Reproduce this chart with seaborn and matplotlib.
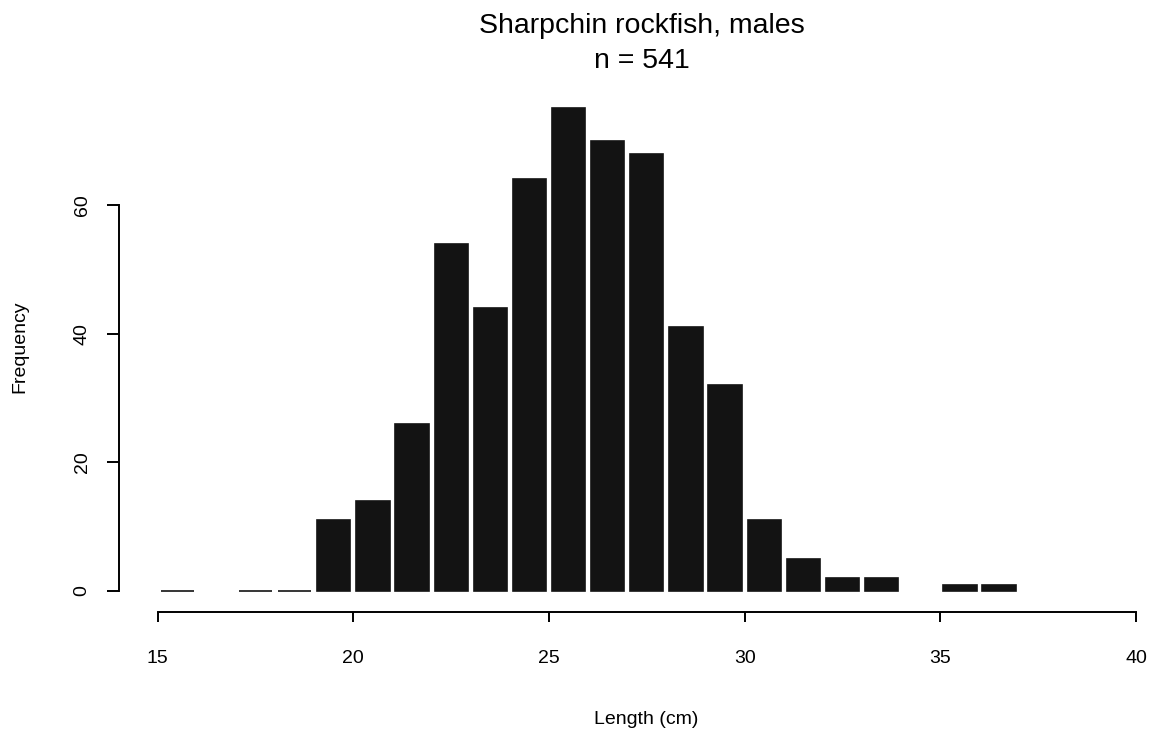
import matplotlib
matplotlib.use("Agg")
import matplotlib.pyplot as plt
import numpy as np
import pandas as pd
import seaborn as sns

# 1-cm length bins (lower edge, cm) and the number of fish in each
bin_start_cm = [15, 17, 18, 19, 20, 21, 22, 23, 24, 25, 26, 27, 28, 29, 30, 31, 32, 33, 35, 36]
frequency = [0, 0, 0, 11, 14, 26, 54, 44, 64, 75, 70, 68, 41, 32, 11, 5, 2, 2, 1, 1]

x_ticks = [15, 20, 25, 30, 35, 40]
y_ticks = [0, 20, 40, 60]

title_text = "Sharpchin rockfish, males\nn = 541"
x_label = "Length (cm)"
y_label = "Frequency"

df = pd.DataFrame({
    "midpoint": np.asarray(bin_start_cm, dtype=float) + 0.5,
    "frequency": frequency,
})

sns.set_theme(style="white")
plt.rcParams["font.family"] = ["Liberation Sans", "DejaVu Sans"]

W, H = 1159, 736
fig = plt.figure(figsize=(W / 100, H / 100), dpi=100)
fig.patch.set_facecolor("white")

# axes box in pixel terms, then converted to figure fractions
left_px, right_px, top_px, bottom_px = 119, 1150, 80, 611.7
ax = fig.add_axes([left_px / W, 1 - bottom_px / H,
                   (right_px - left_px) / W, (bottom_px - top_px) / H])
ax.set_facecolor("white")

bar_color = "#131313"
sns.barplot(data=df, x="midpoint", y="frequency", native_scale=True,
            width=0.85, color=bar_color, saturation=1, edgecolor=bar_color,
            linewidth=1.2, errorbar=None, ax=ax)

ax.set_xlim(14.011, 40.358)
ax.set_ylim(-3.218, 79.43)

# detached R-style axes
for side in ("top", "right"):
    ax.spines[side].set_visible(False)
for side in ("left", "bottom"):
    ax.spines[side].set_linewidth(1.4)
    ax.spines[side].set_color("black")
ax.spines["bottom"].set_bounds(15, 40)
ax.spines["left"].set_bounds(0, 60)

ax.set_xticks(x_ticks)
ax.set_xticklabels([str(t) for t in x_ticks])
ax.set_yticks(y_ticks)
ax.set_yticklabels([str(t) for t in y_ticks])
ax.tick_params(axis="x", direction="out", length=7.2, width=1.4, color="black",
               labelsize=14, pad=20.5, labelcolor="black", bottom=True)
ax.tick_params(axis="y", direction="out", length=9, width=1.4, color="black",
               labelsize=14, pad=11.5, labelcolor="black", left=True,
               labelrotation=90)
for lab in ax.get_yticklabels():
    lab.set_verticalalignment("center")

ax.set_xlabel(x_label, fontsize=14, color="black")
ax.set_ylabel(y_label, fontsize=14, color="black")
ax_w = right_px - left_px
ax_h = bottom_px - top_px
ax.xaxis.set_label_coords((646.5 - left_px) / ax_w, (bottom_px - 711.5) / ax_h)
ax.yaxis.set_label_coords((28 - left_px) / ax_w, (bottom_px - 346.7) / ax_h)

ax.set_title(title_text, fontsize=20.5, color="black", pad=0,
             x=(642 - left_px) / ax_w, y=1 + (top_px - 13) / ax_h,
             va="top", linespacing=1.45)

fig.savefig("out.png", dpi=100, facecolor="white")
